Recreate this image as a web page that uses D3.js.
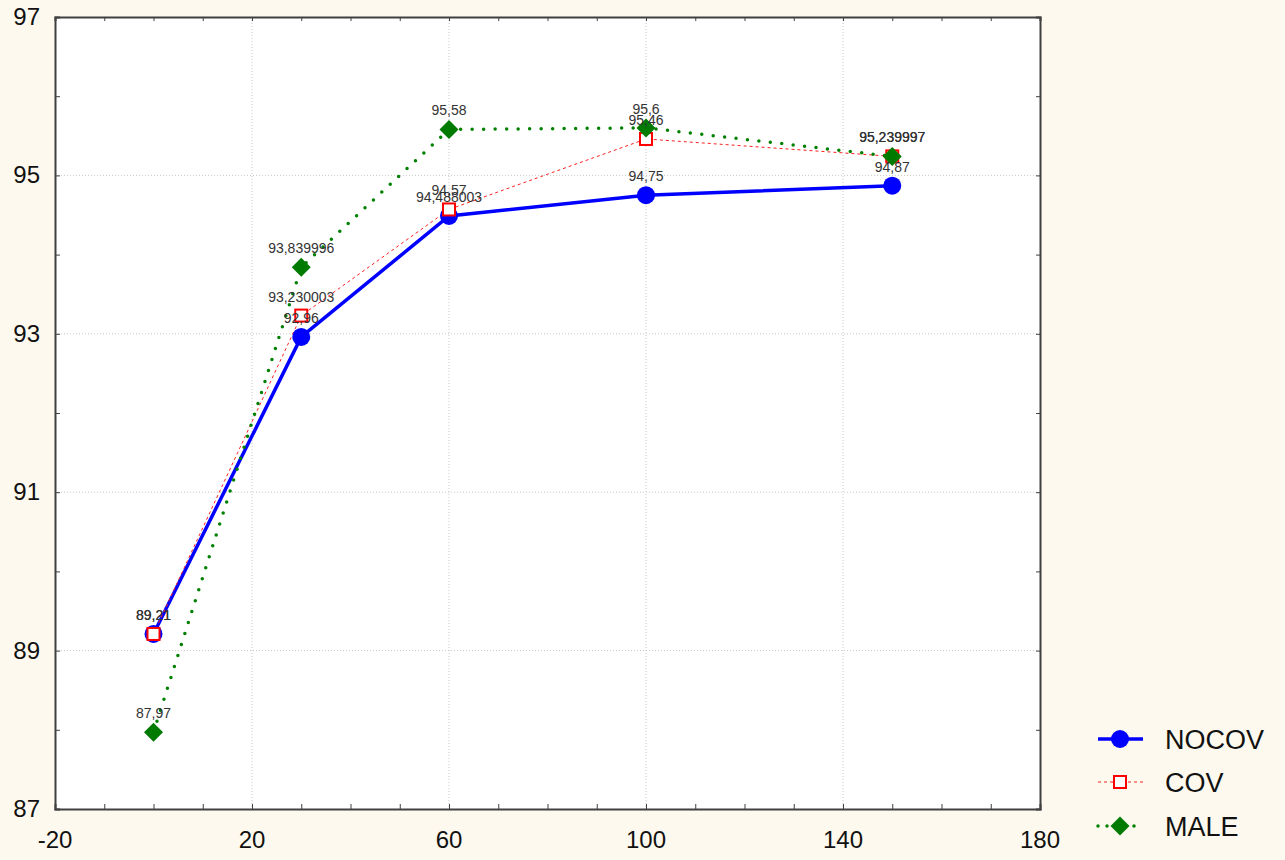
<!DOCTYPE html>
<html><head><meta charset="utf-8">
<script src="https://cdn.jsdelivr.net/npm/d3@7"></script>
<style>body{margin:0;background:#fdf9ee;}svg{display:block;}</style>
</head><body>
<svg id="c" width="1285" height="860"></svg>
<script>
const xValues = [0, 30, 60, 100, 150];
const nocov = [89.21, 92.96, 94.488003, 94.75, 94.87];
const cov = [89.21, 93.230003, 94.57, 95.46, 95.239997];
const male = [87.97, 93.839996, 95.58, 95.6, 95.239997];
const nocovLabels = ["89,21", "92,96", "94,488003", "94,75", "94,87"];
const covLabels = ["89,21", "93,230003", "94,57", "95,46", "95,239997"];
const maleLabels = ["87,97", "93,839996", "95,58", "95,6", "95,239997"];
const xTicks = [-20, 20, 60, 100, 140, 180];
const yTicks = [87, 89, 91, 93, 95, 97];
const seriesNames = ["NOCOV", "COV", "MALE"];

const svg = d3.select("#c");
const L = 55, R = 1040, T = 17, B = 809;
const x = d3.scaleLinear().domain([-20, 180]).range([L, R]);
const y = d3.scaleLinear().domain([87, 97]).range([B, T]);
const font = "Liberation Sans, Arial, sans-serif";

svg.append("rect").attr("x", L).attr("y", T).attr("width", R - L).attr("height", B - T).attr("fill", "#fff");

// grid
const g = svg.append("g");
xTicks.filter(d => d > -20 && d < 180).forEach(d => {
  g.append("line").attr("x1", x(d)).attr("x2", x(d)).attr("y1", T).attr("y2", B)
   .attr("stroke", "#c8c8c8").attr("stroke-dasharray", "1,2");
});
yTicks.filter(d => d > 87 && d < 97).forEach(d => {
  g.append("line").attr("x1", L).attr("x2", R).attr("y1", y(d)).attr("y2", y(d))
   .attr("stroke", "#c8c8c8").attr("stroke-dasharray", "1,2");
});

// axes with inward ticks
const xMinor = d3.range(-20, 181, 10);
const yMinor = d3.range(87, 97.01, 1);
const axB = svg.append("g").attr("transform", `translate(0,${B})`)
  .call(d3.axisBottom(x).tickValues(xMinor).tickSize(-5).tickFormat(""));
const axT = svg.append("g").attr("transform", `translate(0,${T})`)
  .call(d3.axisTop(x).tickValues(xMinor).tickSize(-4).tickFormat(""));
const axL = svg.append("g").attr("transform", `translate(${L},0)`)
  .call(d3.axisLeft(y).tickValues(yMinor).tickSize(-5).tickFormat(""));
const axR = svg.append("g").attr("transform", `translate(${R},0)`)
  .call(d3.axisRight(y).tickValues(yMinor).tickSize(-4).tickFormat(""));
[axB, axT, axL, axR].forEach(a => {
  a.selectAll("path").attr("stroke", "#404040").attr("stroke-width", 2);
  a.selectAll("line").attr("stroke", "#404040");
});

// tick labels
svg.append("g").selectAll("text").data(xTicks).join("text")
  .attr("x", d => x(d)).attr("y", 848).attr("text-anchor", "middle")
  .attr("font-family", font).attr("font-size", 24).attr("fill", "#111").text(d => d);
svg.append("g").selectAll("text").data(yTicks).join("text")
  .attr("x", 40).attr("y", d => y(d) + 8).attr("text-anchor", "end")
  .attr("font-family", font).attr("font-size", 24).attr("fill", "#111").text(d => d);

const line = d3.line().x(d => x(d[0])).y(d => y(d[1]));
const pts = arr => xValues.map((v, i) => [v, arr[i]]);

svg.append("path").datum(pts(nocov)).attr("d", line).attr("fill", "none")
  .attr("stroke", "#0000ff").attr("stroke-width", 3.5);
svg.append("path").datum(pts(cov)).attr("d", line).attr("fill", "none")
  .attr("stroke", "#ff2020").attr("stroke-width", 1).attr("stroke-dasharray", "3,3");
svg.append("path").datum(pts(male)).attr("d", line).attr("fill", "none")
  .attr("stroke", "#008000").attr("stroke-width", 3.5).attr("stroke-linecap", "round")
  .attr("stroke-dasharray", "0,11.5");

svg.append("g").selectAll("circle").data(pts(nocov)).join("circle")
  .attr("cx", d => x(d[0])).attr("cy", d => y(d[1])).attr("r", 9).attr("fill", "#0000ff");
svg.append("g").selectAll("rect").data(pts(cov)).join("rect")
  .attr("x", d => x(d[0]) - 6).attr("y", d => y(d[1]) - 6).attr("width", 12).attr("height", 12)
  .attr("fill", "#fff").attr("stroke", "#ff0000").attr("stroke-width", 2);
const diamond = d3.symbol().type(d3.symbolDiamond2).size(230);
svg.append("g").selectAll("path").data(pts(male)).join("path")
  .attr("transform", d => `translate(${x(d[0])},${y(d[1])})`).attr("d", diamond)
  .attr("fill", "#007a00");

// value labels
function labels(arr, lab, fill) {
  svg.append("g").selectAll("text").data(pts(arr)).join("text")
    .attr("x", d => x(d[0])).attr("y", d => y(d[1]) - 14).attr("text-anchor", "middle")
    .attr("font-family", font).attr("font-size", 14).attr("fill", fill)
    .text((d, i) => lab[i]);
}
labels(nocov, nocovLabels, "#333");
labels(cov, covLabels, "#333");
labels(male, maleLabels, "#333");

// legend
const lg = svg.append("g");
const ly = [739, 782, 826];
const lx1 = 1098, lx2 = 1143, lc = 1120;
lg.append("line").attr("x1", lx1).attr("x2", lx2).attr("y1", ly[0]).attr("y2", ly[0]).attr("stroke", "#0000ff").attr("stroke-width", 3.5);
lg.append("circle").attr("cx", lc).attr("cy", ly[0]).attr("r", 9).attr("fill", "#0000ff");
lg.append("line").attr("x1", lx1).attr("x2", lx2).attr("y1", ly[1]).attr("y2", ly[1]).attr("stroke", "#ff2020").attr("stroke-width", 1).attr("stroke-dasharray", "3,3");
lg.append("rect").attr("x", lc - 6).attr("y", ly[1] - 6).attr("width", 12).attr("height", 12).attr("fill", "#fff").attr("stroke", "#ff0000").attr("stroke-width", 2);
lg.append("line").attr("x1", lx1).attr("x2", lx2).attr("y1", ly[2]).attr("y2", ly[2]).attr("stroke", "#008000").attr("stroke-width", 3.5).attr("stroke-linecap", "round").attr("stroke-dasharray", "0,9");
lg.append("path").attr("transform", `translate(${lc},${ly[2]})`).attr("d", diamond).attr("fill", "#007a00");
lg.selectAll("text").data(seriesNames).join("text")
  .attr("x", 1165).attr("y", (d, i) => ly[i] + 10).attr("font-family", font).attr("font-size", 27)
  .attr("fill", "#111").text(d => d);
</script>
</body></html>
